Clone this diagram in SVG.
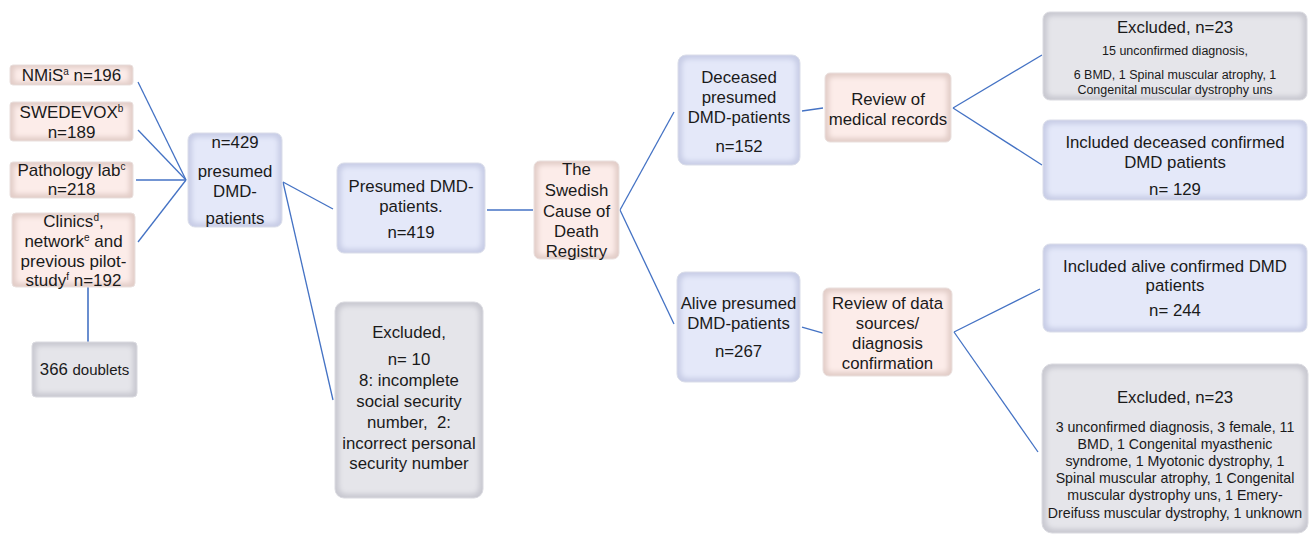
<svg xmlns="http://www.w3.org/2000/svg" width="1312" height="535" viewBox="0 0 1312 535">
<defs>
<filter id="soft" x="-10%" y="-10%" width="120%" height="120%"><feGaussianBlur stdDeviation="2.8"/></filter>
<style>
.t{font-family:"Liberation Sans",Arial,sans-serif;font-size:16.8px;fill:#1a1a1a;text-anchor:middle}
.s{font-size:12.5px}
.m{font-size:14.2px}
.ob{fill:#c8cde6;stroke:#dadde9;stroke-width:1}
.ib{fill:#e4e8f9;filter:url(#soft)}
.op{fill:#e2cdc8;stroke:#e9dfdd;stroke-width:1}
.ip{fill:#fcece9;filter:url(#soft)}
.og{fill:#c8c8d0;stroke:#dadae0;stroke-width:1}
.ig{fill:#e5e5ea;filter:url(#soft)}
.c line{stroke:#4472c4;stroke-width:1.3;fill:none}
</style>
</defs>
<rect width="1312" height="535" fill="#ffffff"/>
<g class="c" id="connectors">
<line x1="138" y1="82" x2="186" y2="180"/>
<line x1="138" y1="130" x2="186" y2="180"/>
<line x1="136" y1="180" x2="186" y2="180"/>
<line x1="138" y1="242" x2="186" y2="180"/>
<line x1="88" y1="287" x2="88" y2="342" style="stroke-width:1.6"/>
<line x1="283" y1="182" x2="333" y2="209"/>
<line x1="283" y1="182" x2="333" y2="400"/>
<line x1="487" y1="210" x2="533" y2="210"/>
<line x1="620" y1="210" x2="674" y2="112"/>
<line x1="620" y1="210" x2="674" y2="324"/>
<line x1="802" y1="111" x2="823" y2="108"/>
<line x1="953" y1="108" x2="1042" y2="55"/>
<line x1="953" y1="108" x2="1042" y2="165"/>
<line x1="802" y1="327" x2="823" y2="333"/>
<line x1="954" y1="332" x2="1040" y2="289"/>
<line x1="954" y1="332" x2="1038" y2="452"/>
</g>
<g id="nmis"><rect class="op" x="10" y="65" width="123" height="20" rx="3"/><rect class="ip" x="14" y="68" width="115" height="14" rx="2"/>
<text class="t" x="71.5" y="81" style="font-size:17px">NMiS<tspan dy="-6" font-size="10">a</tspan><tspan dy="6"> n=196</tspan></text></g>
<g id="swedevox"><rect class="op" x="10" y="102" width="123" height="39" rx="3"/><rect class="ip" x="14" y="106" width="115" height="31" rx="2"/>
<text class="t" x="71.5" y="118" style="font-size:17px">SWEDEVOX<tspan dy="-6" font-size="10">b</tspan></text><text class="t" x="71.5" y="138" style="font-size:17px">n=189</text></g>
<g id="pathology"><rect class="op" x="10" y="162" width="123" height="36" rx="3"/><rect class="ip" x="14" y="166" width="115" height="28" rx="2"/>
<text class="t" x="71.5" y="176" style="font-size:17px">Pathology lab<tspan dy="-6" font-size="10">c</tspan></text><text class="t" x="71.5" y="195" style="font-size:17px">n=218</text></g>
<g id="clinics"><rect class="op" x="12" y="213" width="123" height="74" rx="4"/><rect class="ip" x="16" y="217" width="115" height="66" rx="3"/>
<text class="t" x="73.5" y="227" style="font-size:17px">Clinics<tspan dy="-6" font-size="10">d</tspan><tspan dy="6">,</tspan></text>
<text class="t" x="73.5" y="247" style="font-size:17px">network<tspan dy="-6" font-size="10">e</tspan><tspan dy="6"> and</tspan></text>
<text class="t" x="73.5" y="267" style="font-size:17px">previous pilot-</text>
<text class="t" x="73.5" y="286" style="font-size:17px">study<tspan dy="-6" font-size="10">f</tspan><tspan dy="6"> n=192</tspan></text></g>
<g id="doublets"><rect class="og" x="32" y="342" width="105" height="55" rx="4"/><rect class="ig" x="36" y="346" width="97" height="47" rx="3"/>
<text class="t" x="84.5" y="375">366 <tspan font-size="15">doublets</tspan></text></g>
<g id="n429"><rect class="ob" x="188" y="133" width="94" height="94" rx="7"/><rect class="ib" x="192" y="137" width="86" height="86" rx="5"/>
<text class="t" x="235" y="148">n=429</text><text class="t" x="235" y="177">presumed</text><text class="t" x="235" y="197">DMD-</text><text class="t" x="235" y="224">patients</text></g>
<g id="presumed"><rect class="ob" x="337" y="163" width="148" height="90" rx="7"/><rect class="ib" x="341" y="167" width="140" height="82" rx="5"/>
<text class="t" x="411" y="192">Presumed DMD-</text><text class="t" x="411" y="212">patients.</text><text class="t" x="411" y="238">n=419</text></g>
<g id="excluded10"><rect class="og" x="335" y="302" width="148" height="196" rx="9"/><rect class="ig" x="339" y="306" width="140" height="188" rx="7"/>
<text class="t" x="409" y="338">Excluded,</text><text class="t" x="409" y="365">n= 10</text><text class="t" x="409" y="386">8: incomplete</text><text class="t" x="409" y="407">social security</text><text class="t" x="409" y="428" style="white-space:pre">number,  2:</text><text class="t" x="409" y="449">incorrect personal</text><text class="t" x="409" y="469">security number</text></g>
<g id="registry"><rect class="op" x="534" y="161" width="85" height="98" rx="6"/><rect class="ip" x="538" y="165" width="77" height="90" rx="4"/>
<text class="t" x="576.5" y="175">The</text><text class="t" x="576.5" y="196">Swedish</text><text class="t" x="576.5" y="217">Cause of</text><text class="t" x="576.5" y="237">Death</text><text class="t" x="576.5" y="257">Registry</text></g>
<g id="deceased"><rect class="ob" x="678" y="55" width="122" height="110" rx="8"/><rect class="ib" x="682" y="59" width="114" height="102" rx="6"/>
<text class="t" x="739" y="83">Deceased</text><text class="t" x="739" y="103">presumed</text><text class="t" x="739" y="123">DMD-patients</text><text class="t" x="739" y="152">n=152</text></g>
<g id="review-medical"><rect class="op" x="825" y="73" width="126" height="69" rx="5"/><rect class="ip" x="829" y="77" width="118" height="61" rx="4"/>
<text class="t" x="888" y="105">Review of</text><text class="t" x="888" y="125">medical records</text></g>
<g id="alive"><rect class="ob" x="677" y="272" width="123" height="110" rx="8"/><rect class="ib" x="681" y="276" width="115" height="102" rx="6"/>
<text class="t" x="738.5" y="309">Alive presumed</text><text class="t" x="738.5" y="329">DMD-patients</text><text class="t" x="738.5" y="357">n=267</text></g>
<g id="review-sources"><rect class="op" x="823" y="288" width="129" height="88" rx="6"/><rect class="ip" x="827" y="292" width="121" height="80" rx="4"/>
<text class="t" x="887.5" y="309">Review of data</text><text class="t" x="887.5" y="329">sources/</text><text class="t" x="887.5" y="349">diagnosis</text><text class="t" x="887.5" y="369">confirmation</text></g>
<g id="excluded23a"><rect class="og" x="1043" y="12" width="264" height="88" rx="7"/><rect class="ig" x="1047" y="16" width="256" height="80" rx="5"/>
<text class="t" x="1175" y="33">Excluded, n=23</text><text class="t s" x="1175" y="55">15 unconfirmed diagnosis,</text><text class="t s" x="1175" y="79">6 BMD, 1 Spinal muscular atrophy, 1</text><text class="t s" x="1175" y="94">Congenital muscular dystrophy uns</text></g>
<g id="included-deceased"><rect class="ob" x="1043" y="120" width="264" height="80" rx="7"/><rect class="ib" x="1047" y="124" width="256" height="72" rx="5"/>
<text class="t" x="1175" y="148">Included deceased confirmed</text><text class="t" x="1175" y="168">DMD patients</text><text class="t" x="1175" y="195">n= 129</text></g>
<g id="included-alive"><rect class="ob" x="1043" y="244" width="264" height="88" rx="7"/><rect class="ib" x="1047" y="248" width="256" height="80" rx="5"/>
<text class="t" x="1175" y="272">Included alive confirmed DMD</text><text class="t" x="1175" y="291">patients</text><text class="t" x="1175" y="316">n= 244</text></g>
<g id="excluded23b"><rect class="og" x="1042" y="364" width="266" height="169" rx="10"/><rect class="ig" x="1046" y="368" width="258" height="161" rx="8"/>
<text class="t" x="1175" y="403">Excluded, n=23</text>
<text class="t m" x="1175" y="432">3 unconfirmed diagnosis, 3 female, 11</text>
<text class="t m" x="1175" y="449">BMD, 1 Congenital myasthenic</text>
<text class="t m" x="1175" y="466">syndrome, 1 Myotonic dystrophy, 1</text>
<text class="t m" x="1175" y="483">Spinal muscular atrophy, 1 Congenital</text>
<text class="t m" x="1175" y="500">muscular dystrophy uns, 1 Emery-</text>
<text class="t m" x="1175" y="518">Dreifuss muscular dystrophy, 1 unknown</text></g>
</svg>
